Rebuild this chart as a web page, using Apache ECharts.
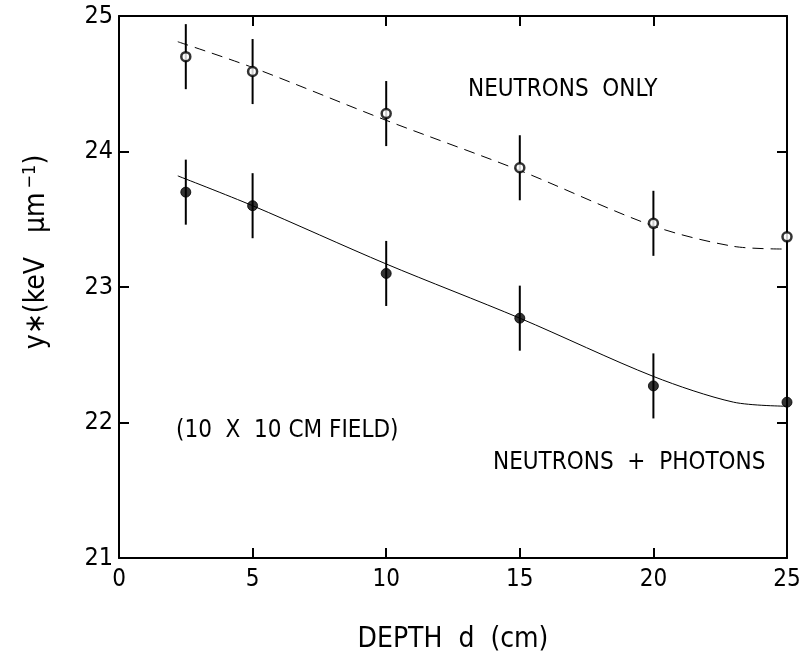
<!DOCTYPE html>
<html><head><meta charset="utf-8">
<script src="https://cdn.jsdelivr.net/npm/echarts@6/dist/echarts.min.js"></script>
<style>html,body{margin:0;padding:0;background:#fff}#c{width:799px;height:659px}</style>
</head><body><div id="c"></div>
<script>
// ---- data ----
const depth = [2.5, 5, 10, 15, 20, 25];
const neutronsOnly = [24.70, 24.59, 24.28, 23.88, 23.47, 23.37];
const neutronsOnlyErr = [0.24, 0.24, 0.24, 0.24, 0.24, 0.24];
const neutronsPhotons = [23.70, 23.60, 23.10, 22.77, 22.27, 22.15];
const neutronsPhotonsErr = [0.24, 0.24, 0.24, 0.24, 0.24, 0.24];
const fitX = [2.2, 5, 10, 15, 20, 23, 25];
const fitNeutronsOnly = [24.81, 24.62, 24.23, 23.86, 23.45, 23.30, 23.28];
const fitNeutronsPhotons = [23.82, 23.60, 23.17, 22.77, 22.34, 22.15, 22.12];
const xTicks = [0, 5, 10, 15, 20, 25];
const yTicks = [21, 22, 23, 24, 25];

const FONT = 'DejaVu Sans Condensed';
const chart = echarts.init(document.getElementById('c'));

function errData(xs, ys, es){ return xs.map((x,i)=>[x, ys[i]-es[i], ys[i]+es[i]]); }
function errSeries(data){
  return {
    type:'custom', xAxisIndex:0, yAxisIndex:0, z:3, clip:false,
    data: data,
    renderItem: function(params, api){
      const p1 = api.coord([api.value(0), api.value(1)]);
      const p2 = api.coord([api.value(0), api.value(2)]);
      return {type:'line', shape:{x1:p1[0],y1:p1[1],x2:p2[0],y2:p2[1]},
        style:{stroke:'#000', lineWidth:2}};
    }
  };
}
const axisCommon = {
  min:0, max:25, interval:5, type:'value',
  axisLine:{show:true, onZero:false, lineStyle:{color:'#000', width:2}},
  axisTick:{show:true, inside:true, length:10, lineStyle:{color:'#000', width:2}},
  splitLine:{show:false}
};
const annot = {fontFamily:FONT, fontSize:24, fill:'#000'};
chart.setOption({
  animation:false,
  backgroundColor:'#fff',
  grid:{left:119, right:12, top:16, bottom:101, outerBoundsMode:'none', containLabel:false},
  xAxis:[
    Object.assign({}, axisCommon, {position:'bottom',
      axisLabel:{show:true, color:'#000', fontFamily:FONT, fontSize:24, margin:10,
        formatter: v => xTicks.includes(v) ? String(v) : ''},
      name:'DEPTH  d  (cm)', nameLocation:'middle', nameGap:68,
      nameTextStyle:{color:'#000', fontFamily:FONT, fontSize:28}}),
    Object.assign({}, axisCommon, {position:'top', axisLabel:{show:false}})
  ],
  yAxis:[
    Object.assign({}, axisCommon, {min:21, max:25, interval:1, position:'left',
      axisLabel:{show:true, color:'#000', fontFamily:FONT, fontSize:25, margin:6,
        formatter: v => yTicks.includes(v) ? String(v) : ''},
      name:'{a|y∗(keV   μm}{s|−1}{a|)}', nameLocation:'middle', nameGap:66, nameRotate:90,
      nameTextStyle:{color:'#000', fontFamily:FONT, fontSize:28, padding:[0,0,0,70],
        rich:{a:{fontFamily:FONT, fontSize:28, color:'#000'},
              s:{fontFamily:FONT, fontSize:18, color:'#000', verticalAlign:'top', padding:[0,0,14,4]}}}}),
    Object.assign({}, axisCommon, {min:21, max:25, interval:1, position:'right', axisLabel:{show:false}})
  ],
  series:[
    {type:'line', data: fitX.map((x,i)=>[x, fitNeutronsOnly[i]]), smooth:0.3, symbol:'none',
      lineStyle:{color:'#000', width:1, type:[11,7]}, z:2},
    {type:'line', data: fitX.map((x,i)=>[x, fitNeutronsPhotons[i]]), smooth:0.3, symbol:'none',
      lineStyle:{color:'#000', width:1}, z:2},
    errSeries(errData(depth, neutronsOnly, neutronsOnlyErr)),
    errSeries(errData(depth, neutronsPhotons, neutronsPhotonsErr)),
    {type:'scatter', data: depth.map((x,i)=>[x, neutronsOnly[i]]), symbol:'circle', symbolSize:9, clip:false,
      itemStyle:{color:'#fff', borderColor:'#000', borderWidth:2.5}, z:5},
    {type:'scatter', data: depth.map((x,i)=>[x, neutronsPhotons[i]]), symbol:'circle', symbolSize:10, clip:false,
      itemStyle:{color:'#000', borderColor:'#000', borderWidth:1}, z:5}
  ],
  graphic:[
    {type:'text', left:468, top:78, style:Object.assign({text:'NEUTRONS  ONLY'}, annot)},
    {type:'text', left:176, top:419, style:Object.assign({text:'(10  X  10 CM FIELD)'}, annot)},
    {type:'text', left:493, top:451, style:Object.assign({text:'NEUTRONS  +  PHOTONS'}, annot)}
  ]
});
</script></body></html>
